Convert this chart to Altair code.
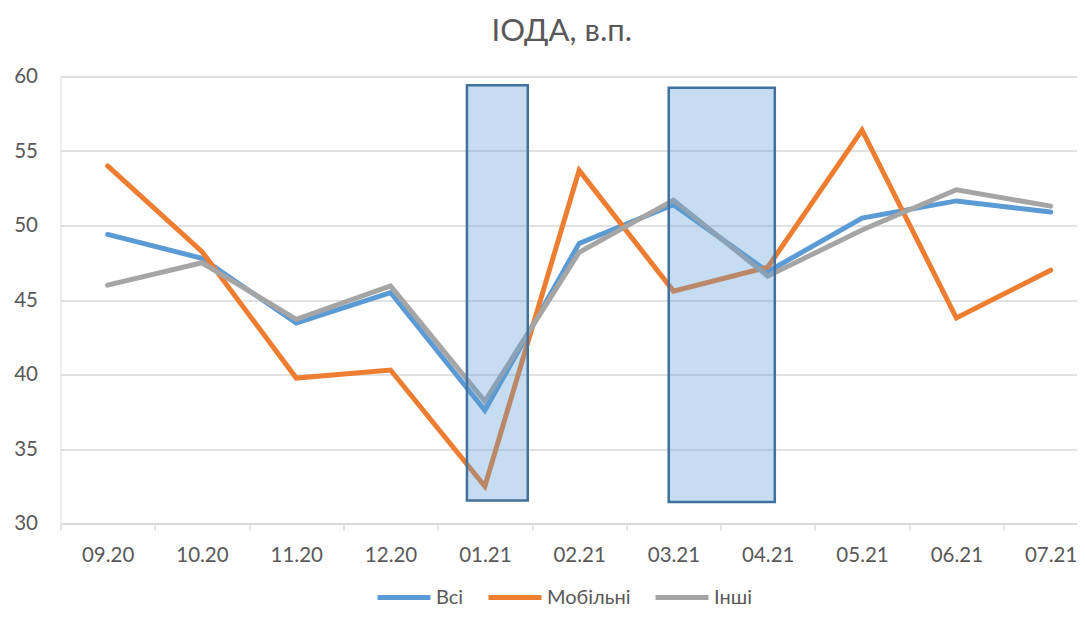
import altair as alt
import pandas as pd

# ---- data ----
categories = ["09.20", "10.20", "11.20", "12.20", "01.21", "02.21",
              "03.21", "04.21", "05.21", "06.21", "07.21"]
series_names = ["Всі", "Мобільні", "Інші"]
vsi = [49.4, 47.8, 43.45, 45.5, 37.6, 48.8, 51.4, 46.9, 50.5, 51.65, 50.9]
mobilni = [54.0, 48.25, 39.76, 40.3, 32.5, 53.7, 45.6, 47.2, 56.4, 43.8, 47.0]
inshi = [46.0, 47.5, 43.7, 45.95, 38.2, 48.2, 51.7, 46.6, 49.7, 52.4, 51.3]
series_colors = ["#5B9BD5", "#ED7D31", "#A5A5A5"]
y_ticks = [30, 35, 40, 45, 50, 55, 60]

# highlight boxes, in category-index units (x) and value units (y)
box_x_start = [3.81, 5.95]
box_x_end = [4.455, 7.075]
box_y_low = [31.55, 31.44]
box_y_high = [59.41, 59.24]

title_text = "ІОДА, в.п."

# ---- tables ----
values_by_series = [vsi, mobilni, inshi]
rows = []
for name, vals in zip(series_names, values_by_series):
    for i, (cat, v) in enumerate(zip(categories, vals)):
        rows.append({"idx": i, "category": cat, "series": name, "value": v})
df = pd.DataFrame(rows)

boxes = pd.DataFrame({"x0": box_x_start, "x1": box_x_end,
                      "y0": box_y_low, "y1": box_y_high})

# ---- layout ----
FONT = "Lato"
TEXT = "#595959"
GRID = "#D9D9D9"
step = 94.3
plot_w = 1016.5
plot_h = 447
x_max = -0.5 + plot_w / step
n = len(categories)
boundaries = [i - 0.5 for i in range(n)]
label_array = "[" + ",".join("'" + c + "'" for c in categories) + "]"

x_scale = alt.Scale(domain=[-0.5, x_max], nice=False, zero=False)
y_scale = alt.Scale(domain=[30, 60], nice=False, zero=False)

x_axis = alt.Axis(title=None, values=boundaries,
                  labelExpr=label_array + "[round(datum.value + 0.5)]",
                  labelOffset=step / 2, labelFlush=False, labelOverlap=False,
                  labelBound=False, labelFont=FONT, labelFontSize=20.5,
                  labelColor=TEXT, labelPadding=15, ticks=True, tickSize=7,
                  tickColor=GRID, tickWidth=1.3, domain=True,
                  domainColor=GRID, domainWidth=1.3, grid=False)
y_axis = alt.Axis(title=None, values=y_ticks, labelFont=FONT,
                  labelFontSize=20.5, labelColor=TEXT, labelPadding=23,
                  ticks=False, domain=False, grid=True, gridColor=GRID,
                  gridWidth=1.3)

color_enc = alt.Color(
    "series:N",
    scale=alt.Scale(domain=series_names, range=series_colors),
    legend=alt.Legend(title=None, orient="none", direction="horizontal",
                      legendX=314.5, legendY=492, symbolType="stroke",
                      symbolSize=2809, symbolStrokeWidth=5,
                      labelFont=FONT, labelFontSize=20, labelColor=TEXT,
                      labelOffset=3, columnPadding=14, padding=0),
)

layers = []
for name in series_names:
    layers.append(
        alt.Chart(df[df["series"] == name])
        .mark_line(strokeWidth=5, strokeCap="round")
        .encode(
            x=alt.X("idx:Q", scale=x_scale, axis=x_axis),
            y=alt.Y("value:Q", scale=y_scale, axis=y_axis),
            color=color_enc,
        )
    )

rects = (
    alt.Chart(boxes)
    .mark_rect(fill="#5B9BD5", fillOpacity=0.35, stroke="#41719C",
               strokeWidth=2.5)
    .encode(
        x=alt.X("x0:Q", scale=x_scale, axis=x_axis),
        x2="x1",
        y=alt.Y("y0:Q", scale=y_scale, axis=y_axis),
        y2="y1",
    )
)

chart = (
    alt.layer(*layers, rects)
    .properties(
        width=plot_w,
        height=plot_h,
        title=alt.TitleParams(text=title_text, font=FONT, fontSize=31,
                              fontWeight="normal", color=TEXT,
                              anchor="middle", dx=-7, offset=19),
        autosize=alt.AutoSizeParams(type="none"),
        padding={"left": 52.5, "top": 68.5, "right": 0, "bottom": 86.5},
    )
    .configure_view(stroke=None)
    .configure(background="white")
)

chart.save("out.html", embed_options={"renderer": "svg", "actions": False})
